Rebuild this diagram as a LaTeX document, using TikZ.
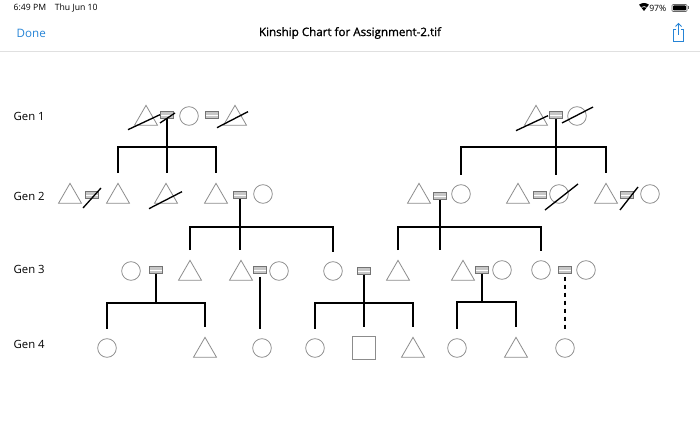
\documentclass[tikz,border=0pt]{standalone}
\usepackage{fontspec}
\setmainfont{Open Sans}
\newfontfamily\titlefont{Open Sans}[FakeBold=1.2]
\usetikzlibrary{shapes.geometric,calc,positioning}
\definecolor{ios}{RGB}{38,132,214}

\begin{document}
\begin{tikzpicture}[
    x=0.75pt, y=-0.75pt,
    every node/.style={font=\fontsize{8.5}{10}\selectfont},
    person/.style={draw=black!45, line width=0.6pt, inner sep=0pt},
    male/.style={person, regular polygon, regular polygon sides=3, minimum size=20pt, yshift=-2pt},
    female/.style={person, circle, minimum size=14pt},
    unknown/.style={person, rectangle, minimum size=17pt},
    marr/.style={draw=black!55, fill=black!22, line width=0.4pt, minimum width=10pt, minimum height=5pt, inner sep=0pt,
        path picture={\draw[white, line width=0.7pt] (path picture bounding box.west) -- (path picture bounding box.east);}},
    link/.style={line width=1.5pt},
    drop/.style={link, shorten >=7pt},
    bar/.style={link, shorten <=7pt, shorten >=7pt},
    slash/.style={line width=1pt},
    gen/.style={anchor=west}
]
    \useasboundingbox (0,0) rectangle (700,428);

    % Status bar and title bar
    \node[anchor=west, font=\fontsize{6.5}{8}\selectfont] (clock) at (9,8) {6:49 PM\quad Thu Jun 10};
    \node[anchor=east, font=\fontsize{6.5}{8}\selectfont] (batt) at (671,8) {97\%};
    \fill[black] (644,11) -- ++(128:6pt) arc (128:52:6pt) -- cycle;
    \draw[white, line width=0.5pt] (644,11) ++(125:3.3pt) arc (125:55:3.3pt);
    \draw[black!60, rounded corners=0.8pt, line width=0.4pt] (672,4.5) rectangle (687,11.5);
    \fill[black, rounded corners=0.6pt] (673,5.5) rectangle (686,10.5);
    \fill[black!60] (687.5,6.5) rectangle (689,9.5);
    \node[anchor=west, text=ios, font=\fontsize{8.7}{10}\selectfont] (done) at (12,33) {Done};
    \node[font=\fontsize{8.7}{10}\titlefont] (title) at (350,33) {Kinship Chart for Assignment-2.tif};
    \draw[ios, line width=0.7pt] (676,29) -- (673.5,29) -- (673.5,41) -- (683.5,41) -- (683.5,29) -- (681,29);
    \draw[ios, line width=0.7pt] (678.5,35) -- (678.5,23.5);
    \draw[ios, line width=0.7pt] (675.5,26.5) -- (678.5,23.5) -- (681.5,26.5);
    \draw[black!12] (0,51) -- (700,51);

    % Generation labels
    \node[gen] (gen1) at (9,116) {Gen 1};
    \node[gen] (gen2) at (9,196) {Gen 2};
    \node[gen] (gen3) at (9,269) {Gen 3};
    \node[gen] (gen4) at (9,344) {Gen 4};

    % Gen 1
    \node[male]   (g1a) at (146,116) {};
    \node[marr]   (m1)  at (167,115) {};
    \node[female] (g1b) at (189,116) {};
    \node[marr]   (m2)  at (212,115) {};
    \node[male]   (g1c) at (235,116) {};
    \node[male]   (g1d) at (536,116) {};
    \node[marr]   (m3)  at (556,115) {};
    \node[female] (g1e) at (577,116) {};

    % Gen 2
    \node[male]   (g2a) at (70,194) {};
    \node[marr]   (m4)  at (92,195) {};
    \node[male]   (g2b) at (118,194) {};
    \node[male]   (g2c) at (166,194) {};
    \node[male]   (g2d) at (216,194) {};
    \node[marr]   (m5)  at (240,195) {};
    \node[female] (g2e) at (263,194) {};
    \node[male]   (g2f) at (419,194) {};
    \node[marr]   (m6)  at (440,196) {};
    \node[female] (g2g) at (461,194) {};
    \node[male]   (g2h) at (518,194) {};
    \node[marr]   (m7)  at (540,195) {};
    \node[female] (g2i) at (559,194) {};
    \node[male]   (g2j) at (606,194) {};
    \node[marr]   (m8)  at (627,195) {};
    \node[female] (g2k) at (650,194) {};

    % Gen 3
    \node[female] (g3a) at (131,271) {};
    \node[marr]   (m9)  at (156,270) {};
    \node[male]   (g3b) at (190,271) {};
    \node[male]   (g3c) at (241,271) {};
    \node[marr]   (m10) at (260,270) {};
    \node[female] (g3d) at (279,271) {};
    \node[female] (g3e) at (333,271) {};
    \node[marr]   (m11) at (364,271) {};
    \node[male]   (g3f) at (398,271) {};
    \node[male]   (g3g) at (463,271) {};
    \node[marr]   (m12) at (482,270) {};
    \node[female] (g3h) at (502,270) {};
    \node[female] (g3i) at (541,270) {};
    \node[marr]   (m13) at (565,270) {};
    \node[female] (g3j) at (586,270) {};

    % Gen 4
    \node[female]  (g4a) at (107,348) {};
    \node[male]    (g4b) at (205,348) {};
    \node[female]  (g4c) at (262,348) {};
    \node[female]  (g4d) at (315,348) {};
    \node[unknown] (g4e) at (364,348) {};
    \node[male]    (g4f) at (413,348) {};
    \node[female]  (g4g) at (457,348) {};
    \node[male]    (g4h) at (516,348) {};
    \node[female]  (g4i) at (565,348) {};

    % Deaths and divorces
    \draw[slash] ($(g1a)+(-18,11)$) -- ($(g1a)+(14,-4)$);
    \draw[slash] ($(m1)+(-7,8)$) -- ($(m1)+(8,-2)$);
    \draw[slash] ($(g1c)+(-18,9)$) -- ($(g1c)+(13,-7)$);
    \draw[slash] ($(g1d)+(-20,12)$) -- ($(g1d)+(12,-3)$);
    \draw[slash] ($(g1e)+(-15,7)$) -- ($(g1e)+(16,-9)$);
    \draw[slash] ($(m4)+(-9,13)$) -- ($(m4)+(9,-7)$);
    \draw[slash] ($(g2c)+(-17,12)$) -- ($(g2c)+(16,-5)$);
    \draw[slash] ($(g2i)+(-14,16)$) -- ($(g2i)+(19,-10)$);
    \draw[slash] ($(m8)+(-7,15)$) -- ($(m8)+(11,-8)$);

    % Descent lines
    \coordinate (f1) at (m1.south |- 0,147);
    \draw[link] (m1.south) -- (f1);
    \draw[bar] (g2b.north) |- (f1) -| (g2d.north);
    \draw[drop] (f1) -- (f1 |- g2c.north);

    \coordinate (f2) at (m3.south |- 0,147);
    \draw[link] (m3.south) -- (f2);
    \draw[bar] (g2g.north) |- (f2) -| (g2j.north);
    \draw[drop] (f2) -- (f2 |- g2i.north);

    \coordinate (f3) at (m5.south |- 0,227);
    \draw[link] (m5.south) -- (f3);
    \draw[bar] (g3b.north) |- (f3) -| (g3e.north);
    \draw[drop] (f3) -- (f3 |- g3c.north);

    \coordinate (f4) at (m6.south |- 0,227);
    \draw[link] (m6.south) -- (f4);
    \draw[bar] (g3f.north) |- (f4) -| (g3i.north);
    \draw[drop] (f4) -- (f4 |- g3g.north);

    \coordinate (f5) at (m9.south |- 0,303);
    \draw[link] (m9.south) -- (f5);
    \draw[bar] (g4a.north) |- (f5) -| (g4b.north);

    \draw[drop] (m10.south) ++(0,3) -- (m10.south |- g4c.north);

    \coordinate (f7) at (m11.south |- 0,303);
    \draw[link] (m11.south) -- (f7);
    \draw[bar] (g4d.north) |- (f7) -| (g4f.north);
    \draw[drop] (f7) -- (g4e.north);

    \coordinate (f8) at (m12.south |- 0,302);
    \draw[link] (m12.south) -- (f8);
    \draw[bar] (g4g.north) |- (f8) -| (g4h.north);

    \draw[drop, dashed, line width=1.2pt] (m13.south) ++(0,3) -- (m13.south |- g4i.north);
\end{tikzpicture}
\end{document}
